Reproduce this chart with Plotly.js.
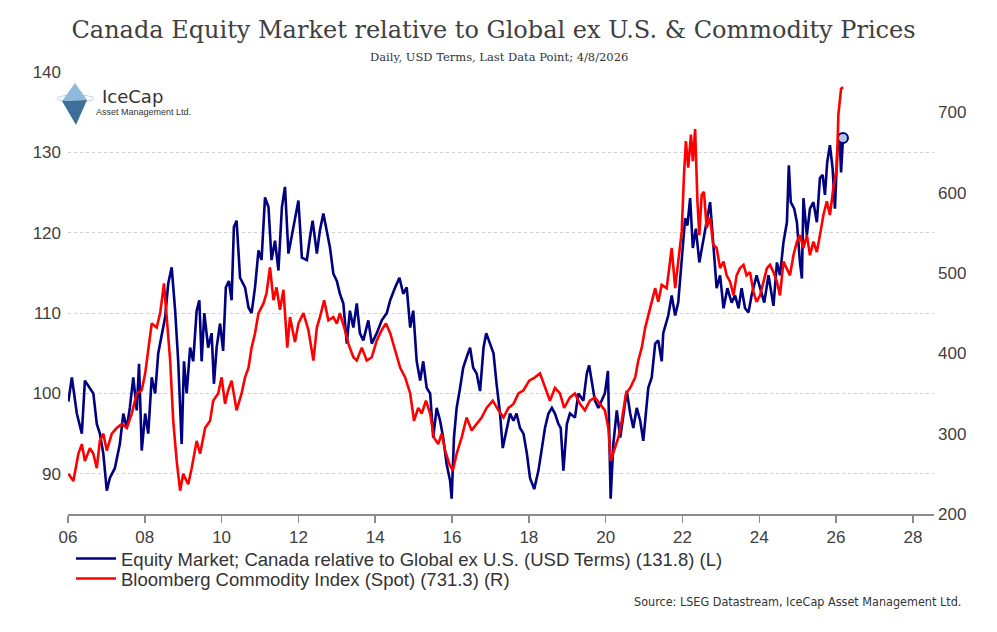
<!DOCTYPE html>
<html><head><meta charset="utf-8">
<script src="https://cdn.plot.ly/plotly-3.0.1.min.js"></script>
<style>html,body{margin:0;padding:0;background:#fff}#chart{width:997px;height:632px}</style>
</head><body><div id="chart"></div>
<script>
const equityYears = [2006.01,2006.10,2006.23,2006.36,2006.44,2006.57,2006.66,2006.75,2006.83,2006.92,2007.01,2007.09,2007.22,2007.35,2007.44,2007.53,2007.61,2007.70,2007.79,2007.85,2007.92,2008.01,2008.09,2008.18,2008.27,2008.35,2008.44,2008.53,2008.61,2008.70,2008.79,2008.87,2008.96,2009.02,2009.09,2009.18,2009.26,2009.35,2009.42,2009.48,2009.55,2009.65,2009.74,2009.80,2009.87,2009.96,2010.04,2010.11,2010.19,2010.26,2010.32,2010.39,2010.48,2010.61,2010.70,2010.78,2010.87,2010.96,2011.04,2011.13,2011.22,2011.30,2011.39,2011.48,2011.57,2011.65,2011.74,2011.87,2012.00,2012.09,2012.22,2012.30,2012.37,2012.48,2012.56,2012.65,2012.74,2012.82,2012.91,2013.00,2013.08,2013.17,2013.26,2013.34,2013.43,2013.52,2013.60,2013.69,2013.82,2013.91,2014.04,2014.17,2014.30,2014.39,2014.52,2014.63,2014.73,2014.82,2014.91,2014.99,2015.08,2015.17,2015.25,2015.34,2015.43,2015.51,2015.60,2015.69,2015.77,2015.86,2015.95,2015.99,2016.05,2016.12,2016.21,2016.29,2016.38,2016.47,2016.55,2016.64,2016.73,2016.82,2016.89,2016.99,2017.08,2017.16,2017.25,2017.32,2017.42,2017.51,2017.60,2017.68,2017.77,2017.86,2017.95,2018.03,2018.14,2018.25,2018.34,2018.42,2018.51,2018.60,2018.68,2018.77,2018.83,2018.90,2018.99,2019.07,2019.20,2019.29,2019.42,2019.51,2019.57,2019.64,2019.72,2019.81,2019.90,2019.98,2020.06,2020.10,2020.13,2020.20,2020.29,2020.38,2020.46,2020.55,2020.64,2020.72,2020.81,2020.90,2020.98,2021.05,2021.11,2021.20,2021.29,2021.37,2021.46,2021.50,2021.63,2021.72,2021.81,2021.89,2021.98,2022.07,2022.13,2022.20,2022.27,2022.35,2022.44,2022.53,2022.63,2022.72,2022.80,2022.89,2022.98,2023.07,2023.17,2023.28,2023.37,2023.46,2023.54,2023.63,2023.72,2023.80,2023.93,2024.02,2024.13,2024.24,2024.37,2024.46,2024.54,2024.63,2024.72,2024.77,2024.82,2024.91,2024.98,2025.06,2025.11,2025.15,2025.24,2025.32,2025.41,2025.50,2025.58,2025.65,2025.71,2025.77,2025.84,2025.91,2025.97,2026.03,2026.09,2026.13,2026.18];
const equityValues = [99,102,97.5,95,101.6,100.7,100,96.2,95,92.5,87.9,89.5,90.7,93.7,97.5,95.7,98.2,102,97.9,103.7,92.9,97.5,95,102,100,105,107.5,109.5,113.7,115.7,110.3,104,93.7,104,100,105.7,104,110.3,111.6,104,110,105.7,107.5,101.2,105.7,108.7,105.3,113.2,114,111.6,120.7,121.5,114.4,113.2,110.7,110,113.2,117.8,116.6,124.4,123.2,116.6,119,115.3,123.2,125.7,117.4,120.7,124,116.9,116.6,119.4,121.5,117.4,120.3,122.4,120.3,118.2,114.9,114,112.4,111.2,106.2,110.3,108.2,111.2,107.5,106.6,109.1,106.2,107.5,109.1,110,111.6,113.2,114.4,112.4,113.2,108.2,110.3,104,101.6,104,100.7,100,94.5,98.2,96.6,94.5,91.2,89.1,86.9,94.5,98.2,100.7,103.2,104.5,105.7,103.2,102.5,100.3,105.7,107.5,106.2,105,101.2,97.5,93.2,95.7,97.5,96.6,97.5,95.7,95,92.5,89.5,88.1,90.4,93.2,95.7,97.5,98.2,97.5,96.2,95.7,90.4,96.2,97.5,97,100,99.1,102.5,103.5,101.2,99.1,98.2,99.1,100,102.8,93.7,86.9,93.7,97.9,94.5,97.5,100.3,97.5,95.7,98.2,96.6,94.1,97.9,100.7,102,106.2,106.6,104,107.5,109.7,112.2,109.7,111.3,116.3,121.8,120.9,124.3,118.1,120.5,116.3,118.8,121.8,123.8,118.8,113.1,114.7,110.6,113.1,111.3,112.2,110.6,113.1,110.6,110.1,112.2,114.7,113.1,111.3,114.7,110.9,116.3,114.7,118.8,121.3,128.4,123.8,123,121.3,116.3,114.3,124.3,119.7,123,123.8,121.3,126.8,127.2,124.7,128.8,130.9,128,123,130,132.4,127.5,131.8];

const commodityYears = [2006.01,2006.14,2006.27,2006.36,2006.44,2006.57,2006.66,2006.75,2006.83,2006.92,2007.01,2007.14,2007.27,2007.40,2007.53,2007.66,2007.79,2007.92,2008.01,2008.09,2008.18,2008.31,2008.40,2008.50,2008.57,2008.66,2008.74,2008.83,2008.92,2009.00,2009.13,2009.22,2009.35,2009.44,2009.57,2009.70,2009.78,2009.91,2010.00,2010.09,2010.17,2010.26,2010.39,2010.52,2010.61,2010.70,2010.78,2010.87,2010.96,2011.09,2011.17,2011.26,2011.35,2011.43,2011.52,2011.61,2011.71,2011.78,2011.91,2012.00,2012.13,2012.26,2012.39,2012.48,2012.56,2012.67,2012.78,2012.91,2013.00,2013.08,2013.21,2013.30,2013.43,2013.52,2013.65,2013.78,2013.91,2014.04,2014.17,2014.28,2014.39,2014.52,2014.65,2014.78,2014.91,2015.01,2015.12,2015.21,2015.32,2015.43,2015.53,2015.64,2015.73,2015.82,2015.93,2016.02,2016.12,2016.25,2016.38,2016.51,2016.64,2016.77,2016.90,2017.06,2017.21,2017.34,2017.47,2017.60,2017.73,2017.86,2018.01,2018.16,2018.29,2018.42,2018.55,2018.68,2018.81,2018.92,2019.07,2019.20,2019.33,2019.46,2019.59,2019.72,2019.85,2019.98,2020.07,2020.13,2020.24,2020.33,2020.42,2020.53,2020.64,2020.77,2020.85,2020.94,2021.03,2021.16,2021.29,2021.37,2021.46,2021.59,2021.72,2021.81,2021.89,2021.98,2022.04,2022.09,2022.15,2022.22,2022.27,2022.33,2022.39,2022.44,2022.50,2022.56,2022.63,2022.72,2022.80,2022.89,2022.98,2023.07,2023.15,2023.24,2023.33,2023.41,2023.50,2023.59,2023.67,2023.76,2023.85,2023.93,2024.02,2024.11,2024.20,2024.28,2024.37,2024.46,2024.54,2024.63,2024.72,2024.80,2024.89,2024.98,2025.06,2025.15,2025.24,2025.32,2025.41,2025.50,2025.58,2025.67,2025.76,2025.84,2025.93,2026.02,2026.06,2026.10,2026.13,2026.18];
const commodityValues = [250,241,275,287,266,282,275,257,291,300,279,300,307,312,307,325,350,354,375,407,437,432,450,487,441,391,316,266,229,250,237,257,291,275,307,316,341,350,370,337,354,366,329,350,370,382,407,425,450,462,475,507,466,482,454,479,407,445,414,437,450,429,391,432,445,466,441,445,437,450,429,412,395,391,407,391,395,416,429,437,425,404,382,370,350,316,332,325,341,325,295,287,300,279,262,254,275,295,320,304,312,320,332,341,329,320,332,337,350,354,366,370,375,357,341,357,350,332,345,350,337,329,341,345,337,329,307,266,282,295,316,350,357,370,391,407,432,456,481,464,485,481,531,481,514,551,622,664,631,672,639,679,589,547,597,601,556,569,535,531,506,514,497,489,472,497,506,510,497,501,476,464,472,489,506,510,501,489,472,514,506,497,522,539,547,531,547,522,539,526,547,572,589,572,606,631,697,722,729,731.3];

const xTickVals = [2006,2008,2010,2012,2014,2016,2018,2020,2022,2024,2026,2028];
const xTickText = ['06','08','10','12','14','16','18','20','22','24','26','28'];
const leftTickVals = [90,100,110,120,130,140];
const rightTickVals = [200,300,400,500,600,700];
const equityName = 'Equity Market; Canada relative to Global ex U.S. (USD Terms) (131.8) (L)';
const commodityName = 'Bloomberg Commodity Index (Spot) (731.3) (R)';
const titleText = 'Canada Equity Market relative to Global ex U.S. &amp; Commodity Prices';
const subtitleText = 'Daily, USD Terms, Last Data Point; 4/8/2026';
const sourceText = 'Source: LSEG Datastream, IceCap Asset Management Ltd.';

const SANS = "'Liberation Sans', Arial, sans-serif";
const SERIF = "'DejaVu Serif', 'Liberation Serif', serif";
const BLUE = '#000080', RED = '#ff0000';

const lastIdx = equityYears.length - 1;
const traces = [
  {x: equityYears, y: equityValues, type: 'scatter', mode: 'lines', name: equityName,
   line: {color: BLUE, width: 2.6}, yaxis: 'y', legend: 'legend'},
  {x: commodityYears, y: commodityValues, type: 'scatter', mode: 'lines', name: commodityName,
   line: {color: RED, width: 2.6}, yaxis: 'y2', legend: 'legend2'},
  {x: [equityYears[lastIdx]], y: [equityValues[lastIdx]], type: 'scatter', mode: 'markers',
   showlegend: false, yaxis: 'y',
   marker: {size: 10, color: '#a9c8ee', line: {color: BLUE, width: 2}}}
];

function px(x){ return (x - 68) / 866; }
function py(y){ return (514 - y) / 442; }

const legendFont = {family: SANS, size: 18.5, color: '#333333'};
const layout = {
  width: 997, height: 632,
  paper_bgcolor: '#ffffff', plot_bgcolor: '#ffffff',
  margin: {l: 68, r: 63, t: 72, b: 118},
  showlegend: true,
  title: {text: titleText, font: {family: SERIF, size: 24, color: '#404040'},
          x: 0.495, xref: 'container', xanchor: 'center', y: 1 - 30/632, yref: 'container', yanchor: 'middle'},
  xaxis: {range: [2006, 2028.55], tickvals: xTickVals, ticktext: xTickText,
          showline: true, linecolor: '#8c8c8c', linewidth: 1.5, ticks: 'outside', ticklen: 7,
          tickcolor: '#8c8c8c', tickwidth: 1.5, showgrid: false, zeroline: false,
          tickfont: {family: SANS, size: 17, color: '#404040'}},
  yaxis: {range: [85, 140], tickvals: leftTickVals, showgrid: true, gridcolor: '#cfcfcf',
          griddash: 'dot', gridwidth: 1, zeroline: false, showline: false, ticks: '',
          ticklabelstandoff: 6, tickfont: {family: SANS, size: 17, color: '#404040'}},
  yaxis2: {range: [200, 750], tickvals: rightTickVals, overlaying: 'y', side: 'right',
           showgrid: false, zeroline: false, showline: false, ticks: '', ticklabelstandoff: 3,
           tickfont: {family: SANS, size: 17, color: '#404040'}},
  legend: {x: px(71), y: py(559), xanchor: 'left', yanchor: 'middle', itemwidth: 40,
           bgcolor: 'rgba(0,0,0,0)', font: legendFont},
  legend2: {x: px(71), y: py(579), xanchor: 'left', yanchor: 'middle', itemwidth: 40,
           bgcolor: 'rgba(0,0,0,0)', font: legendFont},
  annotations: [
    {text: subtitleText, xref: 'paper', yref: 'paper', x: px(499), y: py(57), xanchor: 'center', yanchor: 'middle',
     showarrow: false, font: {family: SERIF, size: 11.5, color: '#333333'}},
    {text: sourceText, xref: 'paper', yref: 'paper', x: px(963), y: py(601), xanchor: 'right', yanchor: 'middle',
     showarrow: false, font: {family: "'DejaVu Sans Condensed', 'DejaVu Sans', sans-serif", size: 12.5, color: '#333333'}},
    {text: 'IceCap', xref: 'paper', yref: 'paper', x: px(100), y: py(96), xanchor: 'left', yanchor: 'middle',
     showarrow: false, font: {family: "'DejaVu Sans', sans-serif", size: 18, color: '#333333'}},
    {text: 'Asset Management Ltd.', xref: 'paper', yref: 'paper', x: px(94), y: py(111.5), xanchor: 'left', yanchor: 'middle',
     showarrow: false, font: {family: SANS, size: 9, color: '#333333'}}
  ],
  shapes: [
    {type: 'circle', xref: 'paper', yref: 'paper', x0: px(57), x1: px(94), y0: py(102), y1: py(95),
     line: {color: '#b9d2e6', width: 1}, fillcolor: 'rgba(0,0,0,0)'},
    {type: 'path', xref: 'paper', yref: 'paper',
     path: `M ${px(75)} ${py(83)} L ${px(87)} ${py(100)} L ${px(62)} ${py(101)} Z`,
     fillcolor: '#8fbadb', line: {width: 0}},
    {type: 'path', xref: 'paper', yref: 'paper',
     path: `M ${px(62)} ${py(101)} L ${px(87)} ${py(100)} L ${px(76)} ${py(125)} Z`,
     fillcolor: '#3d6f98', line: {width: 0}}
  ]
};

Plotly.newPlot('chart', traces, layout, {staticPlot: true, displayModeBar: false});
</script>
</body></html>
